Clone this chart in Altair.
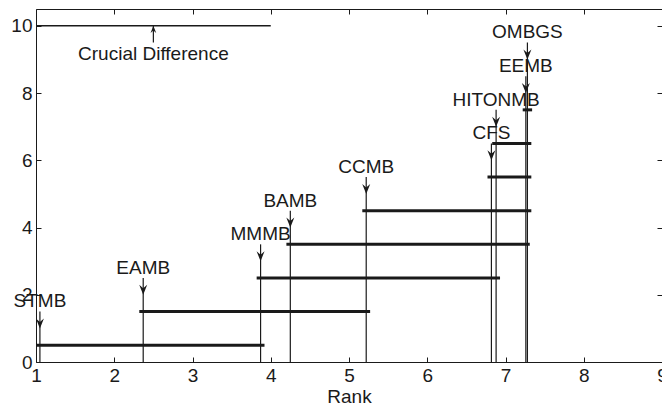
import altair as alt
import pandas as pd

# ---- data ----
methods = ["STMB", "EAMB", "MMMB", "BAMB", "CCMB", "CFS", "HITONMB", "EEMB", "OMBGS"]
ranks = [1.05, 2.37, 3.87, 4.25, 5.22, 6.82, 6.88, 7.26, 7.28]
levels = [1, 2, 3, 4, 5, 6, 7, 8, 9]

clique_y = [0.5, 1.5, 2.5, 3.5, 4.5, 5.5, 6.5, 7.5]
clique_start = [1.00, 2.32, 3.82, 4.20, 5.17, 6.77, 6.83, 7.22]
clique_end = [3.92, 5.27, 6.93, 7.31, 7.33, 7.33, 7.33, 7.34]

cd_start = [1.0]
cd_end = [4.0]
cd_level = [10]
cd_text = ["Crucial Difference"]

x_ticks = [1, 2, 3, 4, 5, 6, 7, 8, 9]
y_ticks = [0, 2, 4, 6, 8, 10]

FONT = "Liberation Sans"
INK = "#1a1a1a"
FS = 19

ARROW_DOWN = "M0,0 L-0.8,-2 L0,-1.3 L0.8,-2 Z"
ARROW_UP = "M0,0 L-0.8,2 L0,1.3 L0.8,2 Z"

x_scale = alt.Scale(domain=[1, 9], nice=False, zero=False)
y_scale = alt.Scale(domain=[0, 10.5], nice=False, zero=False)

df_m = pd.DataFrame({"method": methods, "rank": ranks, "level": levels})
df_c = pd.DataFrame({"y": clique_y, "start": clique_start, "end": clique_end})
df_cd = pd.DataFrame({"start": cd_start, "end": cd_end, "level": cd_level, "label": cd_text})

x_main = alt.Axis(orient="bottom", values=x_ticks, ticks=False, domain=False, grid=False,
                  labelFlush=False, labelOverlap=False, labelFontSize=FS, labelPadding=4,
                  title="Rank", titleFontSize=FS, titleFontWeight="normal", titlePadding=2)
y_main = alt.Axis(orient="left", values=y_ticks, ticks=False, domain=False, grid=False,
                  labelFlush=False, labelOverlap=False, labelFontSize=FS, labelPadding=4,
                  title=None)


def tick_axis(orient, vals):
    return alt.Axis(orient=orient, values=vals, ticks=True, tickSize=5, tickWidth=1,
                    tickColor=INK, labels=False, domain=False, grid=False, title=None,
                    offset=-5)


verticals = alt.Chart(df_m).transform_calculate(
    top="datum.level + 0.5", bottom="0"
).mark_rule(color=INK, strokeWidth=1.2).encode(
    x=alt.X("rank:Q", scale=x_scale, axis=x_main),
    y=alt.Y("bottom:Q", scale=y_scale, axis=y_main),
    y2="top:Q",
)

bars = alt.Chart(df_c).mark_rule(color=INK, strokeWidth=3).encode(
    x=alt.X("start:Q", scale=x_scale, axis=None),
    x2="end:Q",
    y=alt.Y("y:Q", scale=y_scale, axis=None),
)

heads = alt.Chart(df_m).mark_point(shape=ARROW_DOWN, filled=True, size=100, color=INK,
                                   opacity=1, strokeWidth=0).encode(
    x=alt.X("rank:Q", scale=x_scale, axis=None),
    y=alt.Y("level:Q", scale=y_scale, axis=None),
)

labels = alt.Chart(df_m).mark_text(font=FONT, fontSize=FS, color=INK, dy=-27,
                                   baseline="middle", align="center").encode(
    x=alt.X("rank:Q", scale=x_scale, axis=None),
    y=alt.Y("level:Q", scale=y_scale, axis=None),
    text="method:N",
)

cd_line = alt.Chart(df_cd).mark_rule(color=INK, strokeWidth=1.5).encode(
    x=alt.X("start:Q", scale=x_scale, axis=tick_axis("bottom", x_ticks)),
    x2="end:Q",
    y=alt.Y("level:Q", scale=y_scale, axis=tick_axis("left", y_ticks)),
)

cd_shaft = alt.Chart(df_cd).transform_calculate(
    mid="(datum.start + datum.end) / 2", low="datum.level - 0.5"
).mark_rule(color=INK, strokeWidth=1.2).encode(
    x=alt.X("mid:Q", scale=x_scale, axis=None),
    y=alt.Y("low:Q", scale=y_scale, axis=None),
    y2="level:Q",
)

cd_head = alt.Chart(df_cd).transform_calculate(
    mid="(datum.start + datum.end) / 2"
).mark_point(shape=ARROW_UP, filled=True, size=50, color=INK, opacity=1, strokeWidth=0).encode(
    x=alt.X("mid:Q", scale=x_scale, axis=tick_axis("top", x_ticks)),
    y=alt.Y("level:Q", scale=y_scale, axis=tick_axis("right", y_ticks)),
)

cd_label = alt.Chart(df_cd).transform_calculate(
    mid="(datum.start + datum.end) / 2"
).mark_text(font=FONT, fontSize=FS, color=INK, dy=28, baseline="middle", align="center").encode(
    x=alt.X("mid:Q", scale=x_scale, axis=None),
    y=alt.Y("level:Q", scale=y_scale, axis=None),
    text="label:N",
)

chart = alt.layer(
    verticals, bars, heads, labels, cd_line, cd_shaft, cd_head, cd_label
).resolve_axis(
    x="independent", y="independent"
).properties(
    width=626, height=353,
    autosize=alt.AutoSizeParams(type="none"),
    padding={"left": 36, "top": 9, "right": 0, "bottom": 48},
    background="white",
).configure_axis(
    labelFont=FONT, titleFont=FONT, labelColor=INK, titleColor=INK, grid=False,
).configure_view(
    stroke=INK, strokeWidth=1,
)

chart.save("out.html", embed_options={"renderer": "svg", "actions": False})
